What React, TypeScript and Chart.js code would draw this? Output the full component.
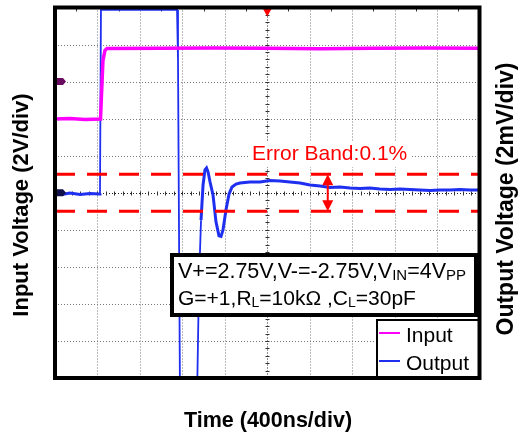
import React, { useEffect, useRef } from "react";
import { Chart, registerables } from "chart.js";

Chart.register(...registerables);

// ---- data ----
const timeRangeNs = [0, 4000];
const timeStepNs = 400;
const inputRangeV = [-10, 10];
const inputStepV = 2;
const outputRangeMv = [-10, 10];

const inputTimeNs = [0, 141, 283, 429, 438, 452, 471, 490, 1000, 1500, 2000, 2500, 3000, 3500, 4000];
const inputVolts = [3.98, 4.01, 3.95, 3.98, 5.28, 7.15, 7.69, 7.79, 7.8, 7.82, 7.8, 7.78, 7.8, 7.82, 7.8];

const outputTimeNs = [0, 66, 141, 236, 330, 415, 424, 433, 1150, 1159, 1178, 1338, 1357, 1376, 1395, 1413, 1428, 1442, 1461, 1489, 1517, 1545, 1564, 1583, 1611, 1640, 1668, 1706, 1743, 1837, 1932, 2026, 2120, 2214, 2309, 2403, 2497, 2591, 2686, 2780, 2874, 2968, 3062, 3157, 3251, 3345, 3439, 3534, 3628, 3722, 3816, 3911, 4000];
const outputMilliVolts = [-0.04, -0.09, -0.01, -0.09, -0.04, -0.07, -0.04, 9.87, 9.87, 7.16, -11.2, -11.2, -4.74, -1.48, 0.42, 1.23, 1.34, 1.13, 0.58, -0.12, -1.57, -2.33, -2.36, -2.01, -0.93, -0.07, 0.31, 0.47, 0.53, 0.58, 0.58, 0.66, 0.63, 0.58, 0.53, 0.42, 0.36, 0.28, 0.31, 0.26, 0.23, 0.26, 0.2, 0.18, 0.2, 0.18, 0.15, 0.12, 0.15, 0.15, 0.18, 0.15, 0.15];

const errorBandMv = [1, -1];
const errorBandArrowTimeNs = 2570;
const inputGroundV = 6;
const outputGroundMv = 0;
const triggerTimeNs = 2000;

const seriesLabels = ["Input", "Output"];
const xTitle = "Time (400ns/div)";
const yLeftTitle = "Input Voltage (2V/div)";
const yRightTitle = "Output Voltage (2mV/div)";
const errorBandLabel = "Error Band:0.1%";
const conditionLine1: [string, boolean][] = [["V+=2.75V,V-=-2.75V,V", false], ["IN", true], ["=4V", false], ["PP", true]];
const conditionLine2: [string, boolean][] = [["G=+1,R", false], ["L", true], ["=10k\u03A9 ,C", false], ["L", true], ["=30pF", false]];

const FONT = "'Liberation Sans', Arial, Helvetica, sans-serif";
const INPUT_COLOR = "#ff00ff";
const OUTPUT_COLOR = "#1f2ff0";
const BAND_COLOR = "#ff0000";

function drawRich(ctx: CanvasRenderingContext2D, parts: [string, boolean][], x: number, y: number, size: number, subSize: number) {
  let cx = x;
  ctx.textBaseline = "alphabetic";
  ctx.textAlign = "left";
  for (const [t, sub] of parts) {
    ctx.font = `${sub ? subSize : size}px ${FONT}`;
    ctx.fillText(t, cx, sub ? y + 1.5 : y);
    cx += ctx.measureText(t).width;
  }
}

const scopePlugin = {
  id: "scopeDecor",
  beforeDatasetsDraw(chart: any) {
    const ctx: CanvasRenderingContext2D = chart.ctx;
    const a = chart.chartArea;
    const xs = chart.scales.x;
    const yi = chart.scales.yIn;
    ctx.save();
    ctx.lineWidth = 1;
    ctx.setLineDash([1, 2]);
    xs.ticks.forEach((t: any) => {
      const px = Math.round(xs.getPixelForValue(t.value)) + 0.5;
      ctx.strokeStyle = t.value === triggerTimeNs ? "#222" : "#7a7a7a";
      ctx.beginPath();
      ctx.moveTo(px, a.top);
      ctx.lineTo(px, a.bottom);
      ctx.stroke();
    });
    yi.ticks.forEach((t: any) => {
      const py = Math.round(yi.getPixelForValue(t.value)) + 0.5;
      ctx.strokeStyle = t.value === 0 ? "#222" : "#7a7a7a";
      ctx.beginPath();
      ctx.moveTo(a.left, py);
      ctx.lineTo(a.right, py);
      ctx.stroke();
    });
    ctx.setLineDash([]);
    // minor ticks on centre cross
    const cx = Math.round(xs.getPixelForValue(triggerTimeNs)) + 0.5;
    const cy = Math.round(yi.getPixelForValue(0)) + 0.5;
    ctx.strokeStyle = "#333";
    ctx.beginPath();
    const dx = (a.right - a.left) / 50;
    for (let i = 1; i < 50; i++) {
      const px = Math.round(a.left + i * dx) + 0.5;
      ctx.moveTo(px, cy - 2);
      ctx.lineTo(px, cy + 2);
    }
    const dy = (a.bottom - a.top) / 50;
    for (let i = 1; i < 50; i++) {
      const py = Math.round(a.top + i * dy) + 0.5;
      ctx.moveTo(cx - 2, py);
      ctx.lineTo(cx + 2, py);
    }
    // small ticks on top border at half divisions
    for (let i = 0; i < 10; i++) {
      const px = Math.round(a.left + (i + 0.5) * dx * 5) + 0.5;
      ctx.moveTo(px, a.top);
      ctx.lineTo(px, a.top + 4);
    }
    ctx.stroke();
    ctx.restore();
  },
  afterDatasetsDraw(chart: any) {
    const ctx: CanvasRenderingContext2D = chart.ctx;
    const a = chart.chartArea;
    const xs = chart.scales.x;
    const yi = chart.scales.yIn;
    const yo = chart.scales.yOut;
    ctx.save();

    const cx = xs.getPixelForValue(triggerTimeNs);

    // ground markers
    const marker = (py: number, color: string) => {
      ctx.fillStyle = color;
      ctx.beginPath();
      ctx.moveTo(a.left, py - 3.5);
      ctx.lineTo(a.left + 8, py - 3.5);
      ctx.lineTo(a.left + 11, py);
      ctx.lineTo(a.left + 8, py + 3.5);
      ctx.lineTo(a.left, py + 3.5);
      ctx.closePath();
      ctx.fill();
    };
    marker(yi.getPixelForValue(inputGroundV), "#6a0a60");
    marker(yo.getPixelForValue(outputGroundMv), "#10104a");

    // trigger marker
    ctx.fillStyle = "#ff0000";
    ctx.beginPath();
    ctx.moveTo(cx - 5, a.top);
    ctx.lineTo(cx + 5, a.top);
    ctx.lineTo(cx, a.top + 9);
    ctx.closePath();
    ctx.fill();

    // error band label
    ctx.fillStyle = "#ffffff";
    ctx.fillRect(248, 141, 164, 26);
    ctx.fillStyle = BAND_COLOR;
    ctx.font = `21px ${FONT}`;
    ctx.textAlign = "left";
    ctx.textBaseline = "alphabetic";
    ctx.fillText(errorBandLabel, 252, 160);

    // double arrow
    const ax = xs.getPixelForValue(errorBandArrowTimeNs);
    const at = yo.getPixelForValue(errorBandMv[0]);
    const ab = yo.getPixelForValue(errorBandMv[1]);
    ctx.strokeStyle = BAND_COLOR;
    ctx.lineWidth = 2;
    ctx.beginPath();
    ctx.moveTo(ax, at + 8);
    ctx.lineTo(ax, ab - 8);
    ctx.stroke();
    ctx.beginPath();
    ctx.moveTo(ax, at);
    ctx.lineTo(ax - 5.5, at + 11);
    ctx.lineTo(ax + 5.5, at + 11);
    ctx.closePath();
    ctx.moveTo(ax, ab);
    ctx.lineTo(ax - 5.5, ab - 11);
    ctx.lineTo(ax + 5.5, ab - 11);
    ctx.closePath();
    ctx.fill();

    // condition box
    ctx.fillStyle = "#ffffff";
    ctx.fillRect(172, 255, 304, 60);
    ctx.strokeStyle = "#000";
    ctx.lineWidth = 4;
    ctx.strokeRect(172, 255, 304, 60);
    ctx.fillStyle = "#000";
    drawRich(ctx, conditionLine1, 178, 278, 21.5, 15);
    drawRich(ctx, conditionLine2, 178, 305, 21, 14);

    // legend box
    ctx.fillStyle = "#ffffff";
    ctx.fillRect(377, 320, 102, 58);
    ctx.lineWidth = 2;
    ctx.strokeStyle = "#000";
    ctx.strokeRect(377, 320, 102, 58);
    const legendColors = [INPUT_COLOR, OUTPUT_COLOR];
    const legendY = [333, 361];
    seriesLabels.forEach((lbl, i) => {
      ctx.strokeStyle = legendColors[i];
      ctx.lineWidth = 2;
      ctx.beginPath();
      ctx.moveTo(379, legendY[i]);
      ctx.lineTo(400, legendY[i]);
      ctx.stroke();
      ctx.fillStyle = "#000";
      ctx.font = `21px ${FONT}`;
      ctx.textBaseline = "alphabetic";
      ctx.textAlign = "left";
      ctx.fillText(lbl, 406, legendY[i] + 8.5);
    });

    // frame
    ctx.strokeStyle = "#000";
    ctx.lineWidth = 4;
    ctx.strokeRect(a.left, a.top, a.right - a.left, a.bottom - a.top);

    // axis titles
    ctx.fillStyle = "#000";
    ctx.textAlign = "center";
    ctx.textBaseline = "middle";
    ctx.font = `bold 21.5px ${FONT}`;
    ctx.fillText(xTitle, 268, 421);
    ctx.save();
    ctx.translate(22, 205);
    ctx.rotate(-Math.PI / 2);
    ctx.font = `bold 22px ${FONT}`;
    ctx.fillText(yLeftTitle, 0, 0);
    ctx.restore();
    ctx.save();
    ctx.translate(507, 199);
    ctx.rotate(-Math.PI / 2);
    ctx.font = `bold 23px ${FONT}`;
    ctx.fillText(yRightTitle, 0, 0);
    ctx.restore();

    ctx.restore();
  },
};

export default function App() {
  const ref = useRef<HTMLCanvasElement | null>(null);
  useEffect(() => {
    if (!ref.current) return;
    const inputData = inputTimeNs.map((t, i) => ({ x: t, y: inputVolts[i] }));
    const outputData = outputTimeNs.map((t, i) => ({ x: t, y: outputMilliVolts[i] }));
    const bandSets = errorBandMv.map((v) => ({
      label: "band" + v,
      data: [{ x: timeRangeNs[0], y: v }, { x: timeRangeNs[1], y: v }],
      yAxisID: "yOut",
      borderColor: BAND_COLOR,
      borderWidth: 3,
      borderDash: [20, 12],
      pointRadius: 0,
      order: 0,
    }));
    const chart = new Chart(ref.current, {
      type: "line",
      data: {
        datasets: [
          ...bandSets,
          {
            label: seriesLabels[0],
            data: inputData,
            yAxisID: "yIn",
            borderColor: INPUT_COLOR,
            borderWidth: 3.5,
            pointRadius: 0,
            order: 1,
          },
          {
            label: seriesLabels[1],
            data: outputData,
            yAxisID: "yOut",
            borderColor: OUTPUT_COLOR,
            borderWidth: 3,
            pointRadius: 0,
            order: 2,
            segment: {
              borderWidth: (c: any) =>
                Math.abs(c.p1.parsed.y - c.p0.parsed.y) > 2.5 || c.p0.parsed.y > 9 ? 1.8 : undefined,
            },
          },
        ] as any,
      },
      options: {
        animation: false,
        responsive: true,
        maintainAspectRatio: false,
        parsing: false as any,
        layout: { padding: { left: 55, right: 38.5, top: 7.5, bottom: 60 } },
        plugins: { legend: { display: false }, tooltip: { enabled: false } },
        scales: {
          x: {
            type: "linear",
            min: timeRangeNs[0],
            max: timeRangeNs[1],
            ticks: { display: false, stepSize: timeStepNs },
            grid: { display: false, drawTicks: false },
            border: { display: false },
          },
          yIn: {
            type: "linear",
            position: "left",
            min: inputRangeV[0],
            max: inputRangeV[1],
            ticks: { display: false, stepSize: inputStepV },
            grid: { display: false, drawTicks: false },
            border: { display: false },
          },
          yOut: {
            type: "linear",
            position: "right",
            display: false,
            min: outputRangeMv[0],
            max: outputRangeMv[1],
            grid: { drawOnChartArea: false },
          },
        },
      } as any,
      plugins: [scopePlugin],
    });
    return () => chart.destroy();
  }, []);
  return (
    <div style={{ position: "absolute", left: 0, top: 0, width: 518, height: 438, background: "#fff" }}>
      <canvas ref={ref} />
    </div>
  );
}
